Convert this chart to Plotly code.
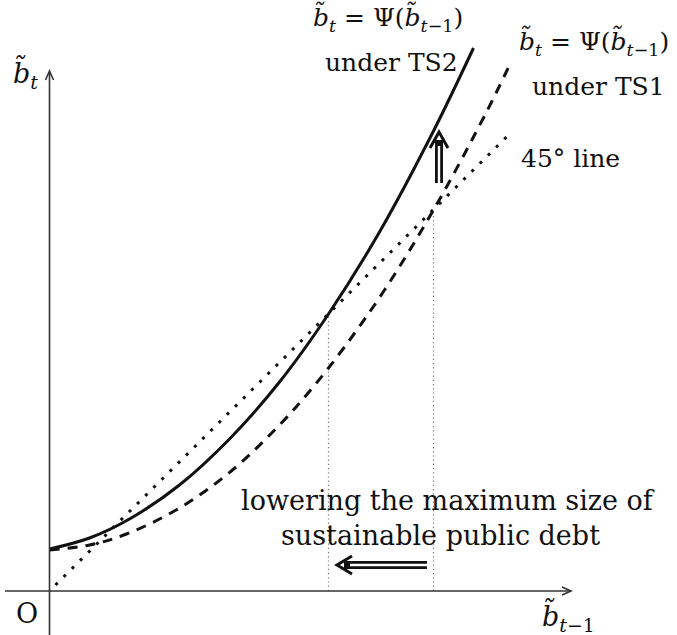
import plotly.graph_objects as go

# ---- Data (arbitrary units) ----
TS2_X = [0.00, 0.40, 0.80, 1.30, 1.80, 2.30, 2.79, 3.30, 3.84, 4.24]
TS2_Y = [0.42, 0.53, 0.72, 1.06, 1.52, 2.09, 2.77, 3.59, 4.60, 5.43]
TS1_X = [0.00, 0.40, 0.77, 1.30, 1.83, 2.30, 2.62, 2.95, 3.35, 3.84, 4.37, 4.61]
TS1_Y = [0.41, 0.46, 0.57, 0.83, 1.21, 1.66, 2.02, 2.44, 3.01, 3.81, 4.79, 5.28]
LINE45_X = [0.06, 4.60]
LINE45_Y = [0.06, 4.57]
EQ_X = [2.79, 3.84]   # steady states (TS2, TS1)
EQ_Y = [2.77, 3.81]

FONT = "DejaVu Serif"
INK = "#111111"
AXC = "#333333"

# pixel helpers (figure 677x635, plot area = whole figure)
X0, Y0, S = 49.5, 591.0, 100.0
def dx(px):
    return (px - X0) / S
def dy(py):
    return (Y0 - py) / S

fig = go.Figure()

# vertical guides at steady states
for ex, ey in zip(EQ_X, EQ_Y):
    fig.add_trace(go.Scatter(x=[ex, ex], y=[0, ey], mode="lines",
                             line=dict(color="#777777", width=1.2, dash="1.2px,3px"),
                             hoverinfo="skip", showlegend=False))

# 45 degree line
fig.add_trace(go.Scatter(x=LINE45_X, y=LINE45_Y, mode="lines",
                         line=dict(color=INK, width=3, dash="3px,8.5px"),
                         hoverinfo="skip", showlegend=False))
# TS1 (dashed)
fig.add_trace(go.Scatter(x=TS1_X, y=TS1_Y, mode="lines", line_shape="spline",
                         line=dict(color=INK, width=3, dash="10px,8px"),
                         hoverinfo="skip", showlegend=False))
# TS2 (solid)
fig.add_trace(go.Scatter(x=TS2_X, y=TS2_Y, mode="lines", line_shape="spline",
                         line=dict(color=INK, width=3),
                         hoverinfo="skip", showlegend=False))

shapes = []
# axes
shapes.append(dict(type="line", xref="x", yref="y", x0=dx(5), y0=0, x1=dx(570), y1=0,
                   line=dict(color=AXC, width=1.6)))
shapes.append(dict(type="path", xref="x", yref="y",
                   path=f"M {dx(562)},{dy(587)} L {dx(571)},{dy(591)} L {dx(562)},{dy(595)}",
                   line=dict(color=AXC, width=1.6)))
shapes.append(dict(type="line", xref="x", yref="y", x0=0, y0=dy(640), x1=0, y1=dy(72),
                   line=dict(color=AXC, width=1.6)))
shapes.append(dict(type="path", xref="x", yref="y",
                   path=f"M {dx(45.5)},{dy(80)} L {dx(49.5)},{dy(71)} L {dx(53.5)},{dy(80)}",
                   line=dict(color=AXC, width=1.6)))
# horizontal double arrow (<=)
shapes.append(dict(type="line", xref="x", yref="y", x0=dx(344), y0=dy(565), x1=dx(427), y1=dy(565),
                   line=dict(color=INK, width=8)))
shapes.append(dict(type="line", xref="x", yref="y", x0=dx(350), y0=dy(565), x1=dx(428), y1=dy(565),
                   line=dict(color="white", width=2.4)))
shapes.append(dict(type="path", xref="x", yref="y",
                   path=f"M {dx(352)},{dy(556)} L {dx(337)},{dy(565)} L {dx(352)},{dy(574)}",
                   line=dict(color=INK, width=3)))
# vertical double arrow (^)
shapes.append(dict(type="line", xref="x", yref="y", x0=dx(439), y0=dy(183), x1=dx(439), y1=dy(140),
                   line=dict(color=INK, width=8)))
shapes.append(dict(type="line", xref="x", yref="y", x0=dx(439), y0=dy(184), x1=dx(439), y1=dy(146),
                   line=dict(color="white", width=2.4)))
shapes.append(dict(type="path", xref="x", yref="y",
                   path=f"M {dx(430)},{dy(148)} L {dx(439)},{dy(132)} L {dx(448)},{dy(148)}",
                   line=dict(color=INK, width=3)))

annotations = []
b = "<i>b\u0303</i>"
def label(text, px, py, size=28):
    annotations.append(dict(x=dx(px), y=dy(py), xref="x", yref="y", text=text,
                            showarrow=False, xanchor="center", yanchor="middle",
                            font=dict(family=FONT, size=size, color=INK)))

psi = f"{b}<sub><i>t</i></sub> = \u03a8({b}<sub><i>t</i>\u22121</sub>)"
label(psi, 388, 18, 25)
label("under TS2", 391, 62, 25)
label(psi, 594, 42, 25)
label("under TS1", 598, 86, 25)
label("45\u00b0 line", 570, 158, 25)
label("lowering the maximum size of", 448, 500, 27)
label("sustainable public debt", 440, 535, 27)
label("O", 27, 613, 27)
label(f"{b}<sub><i>t</i>\u22121</sub>", 568, 617, 27)
label(f"{b}<sub><i>t</i></sub>", 25, 74, 27)

fig.update_layout(
    width=677, height=635, autosize=False,
    margin=dict(l=0, r=0, t=0, b=0),
    paper_bgcolor="white", plot_bgcolor="white",
    xaxis=dict(range=[dx(0), dx(677)], visible=False, fixedrange=True),
    yaxis=dict(range=[dy(635), dy(0)], visible=False, fixedrange=True),
    shapes=shapes, annotations=annotations, showlegend=False,
)

fig.write_html("out.html", config={"displayModeBar": False, "staticPlot": True},
               post_script="document.body.style.margin='0';document.body.style.overflow='hidden';")
